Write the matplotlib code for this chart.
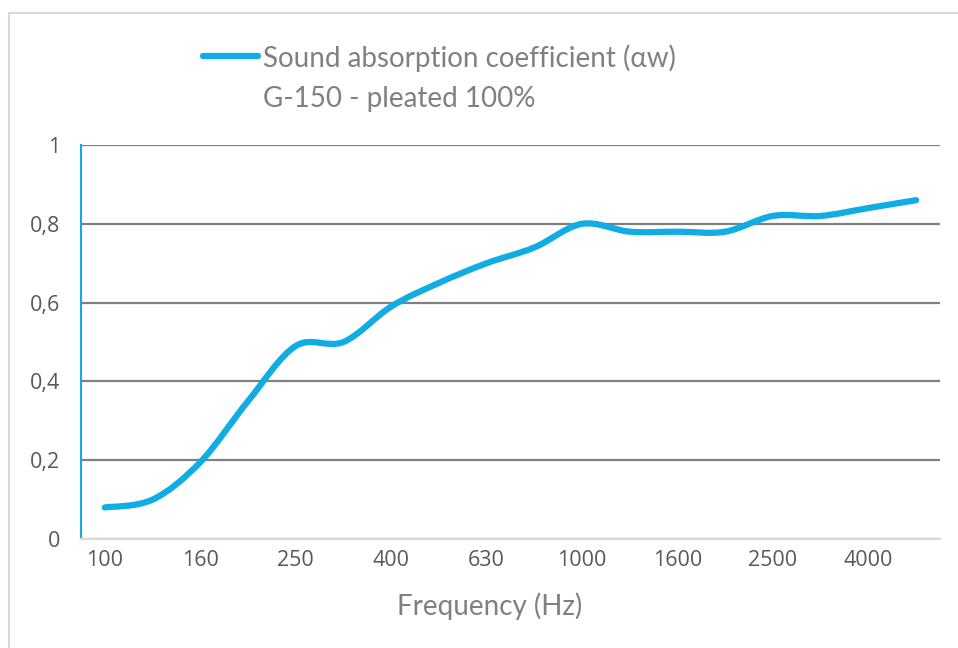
import matplotlib
matplotlib.use("Agg")
import matplotlib.pyplot as plt
from matplotlib.path import Path
from matplotlib.patches import PathPatch, Rectangle
from matplotlib.lines import Line2D

# 1/3 octave bands and absorption values
freqs = ["100", "125", "160", "200", "250", "315", "400", "500", "630",
         "800", "1000", "1250", "1600", "2000", "2500", "3150", "4000", "5000"]
alpha = [0.08, 0.10, 0.195, 0.35, 0.49, 0.50, 0.59, 0.65, 0.70,
         0.74, 0.80, 0.78, 0.78, 0.78, 0.82, 0.82, 0.84, 0.86]
y_ticks = [0, 0.2, 0.4, 0.6, 0.8, 1]
y_labels = ["0", "0,2", "0,4", "0,6", "0,8", "1"]

blue = "#0FADE3"
grey_txt = "#595959"

fig = plt.figure(figsize=(9.58, 6.48), dpi=100)
ax = fig.add_axes([81 / 958, 109 / 648, 859 / 958, 394 / 648])

# smoothed line (catmull-rom style bezier, like excel's smoothed line)
xs = list(range(len(alpha)))
pts = list(zip(xs, alpha))
verts = [pts[0]]
codes = [Path.MOVETO]
for i in range(len(pts) - 1):
    p0 = pts[i - 1] if i > 0 else pts[i]
    p1 = pts[i]
    p2 = pts[i + 1]
    p3 = pts[i + 2] if i + 2 < len(pts) else pts[i + 1]
    c1 = (p1[0] + (p2[0] - p0[0]) / 6, p1[1] + (p2[1] - p0[1]) / 6)
    c2 = (p2[0] - (p3[0] - p1[0]) / 6, p2[1] - (p3[1] - p1[1]) / 6)
    verts += [c1, c2, p2]
    codes += [Path.CURVE4] * 3
ax.add_patch(PathPatch(Path(verts, codes), fill=False, edgecolor=blue,
                       lw=4.5, capstyle="round", joinstyle="round", zorder=3))

ax.set_xlim(-0.5, len(freqs) - 0.5)
ax.set_ylim(0, 1)
ax.set_xticks(xs[::2])
ax.set_xticklabels(freqs[::2])
ax.set_yticks(y_ticks)
ax.set_yticklabels(y_labels)
ax.tick_params(length=0, labelsize=15.5, labelcolor=grey_txt, pad=8,
               labelfontfamily="Open Sans")
ax.tick_params(axis="y", pad=15)

ax.grid(axis="y", color="#808080", lw=1.6)
ax.set_axisbelow(True)
for s in ["top", "right"]:
    ax.spines[s].set_visible(False)
ax.spines["left"].set_color(blue)
ax.spines["left"].set_linewidth(1.5)
ax.spines["bottom"].set_color("#d9d9d9")
ax.spines["bottom"].set_linewidth(1.5)

ax.set_xlabel("Frequency (Hz)", fontsize=20, color="#808080", family="Lato")
ax.xaxis.set_label_coords((490 - 81) / 859, -(606 - 539) / 394)
ax.xaxis.label.set_va("center")

# legend key drawn by hand
fig.add_artist(Line2D([203 / 958, 258 / 958], [1 - 56 / 648, 1 - 56 / 648],
                      color=blue, lw=4.5, solid_capstyle="round"))
fig.text(263 / 958, 1 - 58 / 648, "Sound absorption coefficient (\u03b1w)",
         fontsize=20, color="#808080", family="Lato", va="center")
fig.text(263 / 958, 1 - 99 / 648, "G-150 - pleated 100%",
         fontsize=20, color="#808080", family="Lato", va="center")

# outer frame
fig.add_artist(Rectangle((9 / 958, -0.1), 1.2, 1.1 - 13 / 648, fill=False,
                         edgecolor="#d9d9d9", lw=1.5, transform=fig.transFigure))

fig.savefig("out.png", dpi=100)
